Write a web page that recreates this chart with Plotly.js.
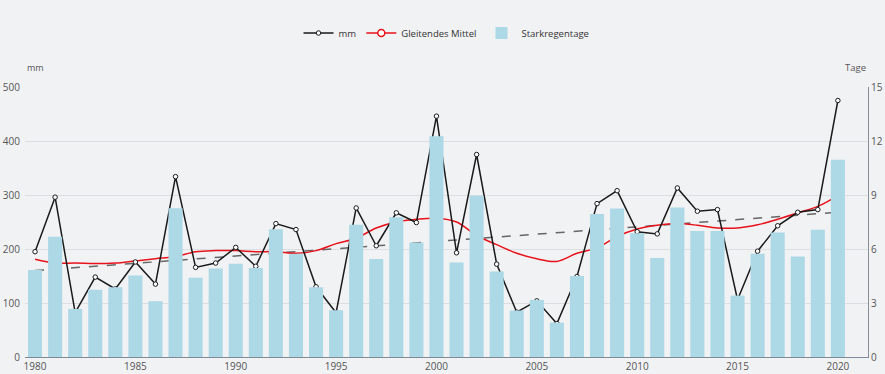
<!DOCTYPE html>
<html>
<head>
<meta charset="utf-8">
<script src="https://cdn.plot.ly/plotly-3.0.1.min.js"></script>
<style>html,body{margin:0;padding:0;background:#f1f2f4;}#chart{width:885px;height:374px;}</style>
</head>
<body>
<div id="chart"></div>
<script>
const years = [1980,1981,1982,1983,1984,1985,1986,1987,1988,1989,1990,1991,1992,1993,1994,1995,1996,1997,1998,1999,2000,2001,2002,2003,2004,2005,2006,2007,2008,2009,2010,2011,2012,2013,2014,2015,2016,2017,2018,2019,2020];
const mm = [195,296,82,148,126,176,135,334,166,174,203,168,247,236,130,82,276,206,267,249,446,193,375,172,83,104,62,149,284,308,232,228,313,270,273,106,196,243,268,273,475];
const movingAvg = [181,174,174,173,174,178,182,186,195,197,197,195,195,192,197,210,220,239,250,255,257,250,225,208,192,182,177,192,202,223,237,244,247,244,239,239,245,255,267,279,299];
const heavyRainDays = [4.84,6.68,2.67,3.73,3.88,4.53,3.1,8.27,4.4,4.92,5.18,4.95,7.1,5.73,3.88,2.6,7.35,5.45,7.77,6.36,12.26,5.25,8.96,4.75,2.58,3.17,1.91,4.5,7.94,8.25,6.88,5.5,8.31,7.0,7.0,3.41,5.73,6.92,5.58,7.07,10.96];
const trendYears = [1980, 2020];
const trendValues = [160, 268];
const leftTicks = [0,100,200,300,400,500];
const rightTicks = [0,3,6,9,12,15];
const xTicks = [1980,1985,1990,1995,2000,2005,2010,2015,2020];

const font = {family: 'Open Sans, sans-serif', size: 10, color: '#555'};

const traces = [
  {type:'bar', x: years, y: heavyRainDays, yaxis:'y2', name:'Starkregentage',
   marker:{color:'#add8e6'}, width:0.7, legendrank:3, hoverinfo:'x+y'},
  {type:'scatter', mode:'lines', x: trendYears, y: trendValues, showlegend:false,
   line:{color:'#666', width:1.5, dash:'dash'}},
  {type:'scatter', mode:'lines', x: years, y: movingAvg, showlegend:false,
   line:{color:'#e8121a', width:1.5, shape:'spline', smoothing:1}},
  {type:'scatter', mode:'lines+markers', x: years, y: mm, name:'mm', legendrank:1,
   line:{color:'#1a1a1a', width:1.5},
   marker:{symbol:'circle', size:4.5, color:'#fff', line:{color:'#1a1a1a', width:1}}},
  {type:'scatter', mode:'lines+markers', x:[null], y:[null], name:'Gleitendes Mittel', legendrank:2,
   line:{color:'#e8121a', width:1.5},
   marker:{symbol:'circle', size:7, color:'#fff', line:{color:'#e8121a', width:1.5}}}
];

const layout = {
  width: 885, height: 374,
  paper_bgcolor:'#f1f2f4', plot_bgcolor:'#f1f2f4',
  font: font,
  margin:{l:25, r:17, t:87, b:17, autoexpand:false},
  bargap:0.3,
  showlegend:true,
  legend:{orientation:'h', x:0.5, xanchor:'center', y:1-33/374, yanchor:'middle', yref:'container',
          font:{family:'Open Sans, sans-serif', size:9.5, color:'#333'}, traceorder:'normal',
          itemwidth:30, bgcolor:'rgba(0,0,0,0)'},
  xaxis:{range:[1979.5, 2021.5], tickvals:xTicks, ticktext:xTicks.map(String),
         showgrid:false, zeroline:false, showline:true, linecolor:'#7f8a96', linewidth:1,
         ticks:'', ticklen:3, tickfont:font, automargin:false},
  yaxis:{range:[0,500], tickvals:leftTicks, showgrid:true, gridcolor:'#dcdee2', gridwidth:1,
         zeroline:false, showline:false, tickfont:font, ticklabelstandoff:4, automargin:false},
  yaxis2:{range:[0,15], tickvals:rightTicks, overlaying:'y', side:'right', showgrid:false,
          zeroline:false, showline:true, linecolor:'#8a8f96', linewidth:1, tickfont:font, automargin:false},
  annotations:[
    {text:'mm', xref:'paper', yref:'paper', x:0, y:1, xanchor:'left', yanchor:'bottom', yshift:11,
     showarrow:false, font:{family:'Open Sans, sans-serif', size:9, color:'#555'}},
    {text:'Tage', xref:'paper', yref:'paper', x:1, y:1, xanchor:'right', yanchor:'bottom', yshift:11,
     showarrow:false, font:{family:'Open Sans, sans-serif', size:9.5, color:'#555'}}
  ]
};

Plotly.newPlot('chart', traces, layout, {displayModeBar:false, staticPlot:true});
</script>
</body>
</html>
